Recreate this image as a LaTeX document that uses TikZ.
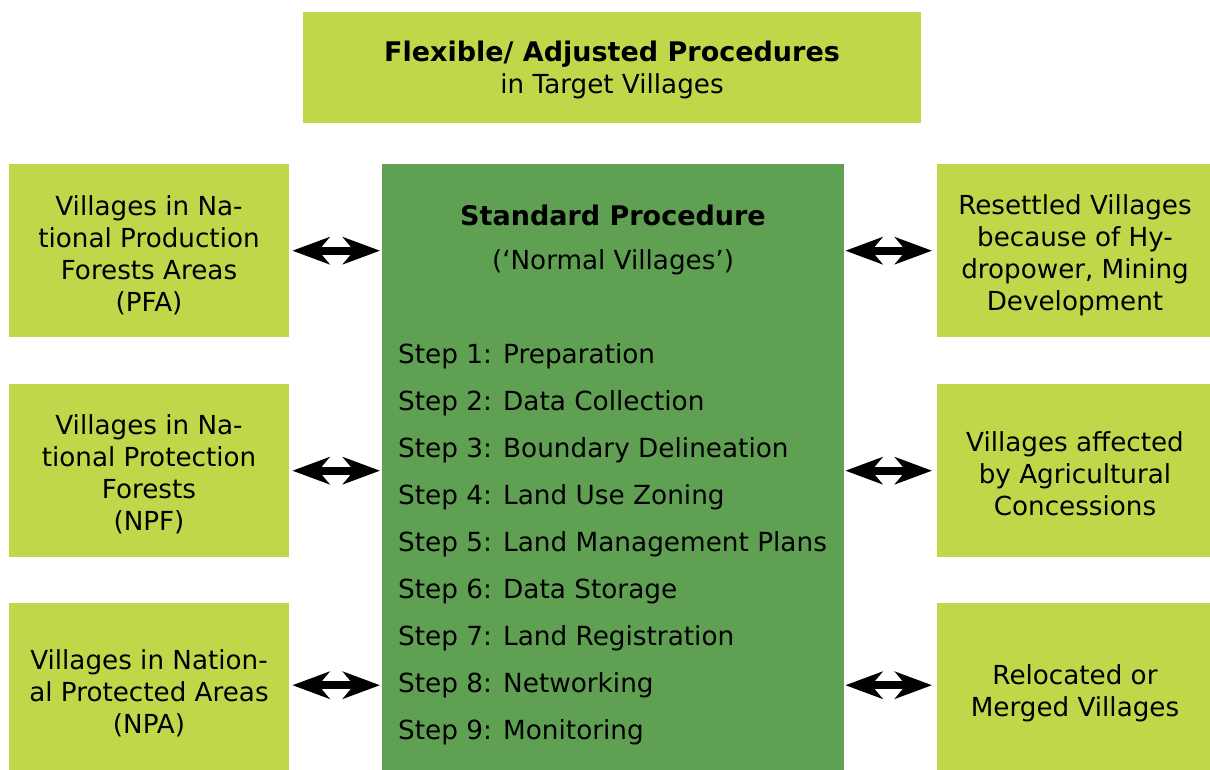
\documentclass[tikz,border=0pt]{standalone}
\usepackage{fontspec}
\setmainfont{DejaVu Sans}
\usetikzlibrary{arrows.meta}
\definecolor{lightg}{RGB}{191,216,74}
\definecolor{darkg}{RGB}{95,160,82}
\newcommand{\bighead}[1]{{\fontsize{27}{32}\selectfont\bfseries #1}}
\tikzset{
  lbox/.style={rectangle, fill=lightg, draw=none, inner sep=0pt, anchor=north west},
  dbox/.style={rectangle, fill=darkg, draw=none, inner sep=0pt, anchor=north west},
  txt/.style={align=center, inner sep=0pt, font=\fontsize{26.2}{32}\selectfont},
  steptxt/.style={anchor=west, inner sep=0pt, font=\fontsize{26.3}{30}\selectfont},
  dar/.style={line width=8pt, {Stealth[length=37pt,width=27pt,inset=11pt]}-{Stealth[length=37pt,width=27pt,inset=11pt]}},
}
\begin{document}
\begin{tikzpicture}[x=1pt,y=-1pt]
\useasboundingbox (0,0) rectangle (1210,770);
% boxes
\node[lbox, minimum width=618pt, minimum height=111pt] (top) at (303,12) {};
\node[dbox, minimum width=462pt, minimum height=606pt] (std) at (382,164) {};
\node[lbox, minimum width=280pt, minimum height=173pt] (pfa) at (9,164) {};
\node[lbox, minimum width=280pt, minimum height=173pt] (npf) at (9,384) {};
\node[lbox, minimum width=280pt, minimum height=167pt] (npa) at (9,603) {};
\node[lbox, minimum width=273pt, minimum height=173pt] (res) at (937,164) {};
\node[lbox, minimum width=273pt, minimum height=173pt] (agr) at (937,384) {};
\node[lbox, minimum width=273pt, minimum height=167pt] (rel) at (937,603) {};
% texts
\node[txt] (toptxt) at (612,70) {\bighead{Flexible/ Adjusted Procedures}\\in Target Villages};
\node[txt] (stdtitle) at (613,215) {\bighead{Standard Procedure}};
\node[txt] (stdsub) at (613,262) {(‘Normal Villages’)};
\node[txt] (pfatxt) at (149,255) {Villages in Na-\\tional Production\\Forests Areas\\(PFA)};
\node[txt] (npftxt) at (149,474) {Villages in Na-\\tional Protection\\Forests\\(NPF)};
\node[txt] (npatxt) at (149,693) {Villages in Nation-\\al Protected Areas\\(NPA)};
\node[txt] (restxt) at (1075,255) {Resettled Villages\\because of Hy-\\dropower, Mining\\Development};
\node[txt] (agrtxt) at (1075,474) {Villages affected\\by Agricultural\\Concessions};
\node[txt] (reltxt) at (1075,693) {Relocated or\\Merged Villages};
% steps
\node[steptxt] (s1) at (398,356) {Step 1: Preparation};
\node[steptxt] (s2) at (398,403) {Step 2: Data Collection};
\node[steptxt] (s3) at (398,450) {Step 3: Boundary Delineation};
\node[steptxt] (s4) at (398,497) {Step 4: Land Use Zoning};
\node[steptxt] (s5) at (398,544) {Step 5: Land Management Plans};
\node[steptxt] (s6) at (398,591) {Step 6: Data Storage};
\node[steptxt] (s7) at (398,638) {Step 7: Land Registration};
\node[steptxt] (s8) at (398,685) {Step 8: Networking};
\node[steptxt] (s9) at (398,732) {Step 9: Monitoring};
% arrows
\draw[dar, shorten <=3pt, shorten >=2pt] (pfa.east) -- (pfa.east -| std.west);
\draw[dar, shorten <=3pt, shorten >=2pt] (npf.east) -- (npf.east -| std.west);
\draw[dar, shorten <=3pt, shorten >=2pt] ([yshift=1.5pt]npa.east) -- ([yshift=1.5pt]npa.east -| std.west);
\draw[dar, shorten <=1pt, shorten >=5pt] (res.west -| std.east) -- (res.west);
\draw[dar, shorten <=1pt, shorten >=5pt] (agr.west -| std.east) -- (agr.west);
\draw[dar, shorten <=1pt, shorten >=5pt] ([yshift=1.5pt]rel.west -| std.east) -- ([yshift=1.5pt]rel.west);
\end{tikzpicture}
\end{document}
